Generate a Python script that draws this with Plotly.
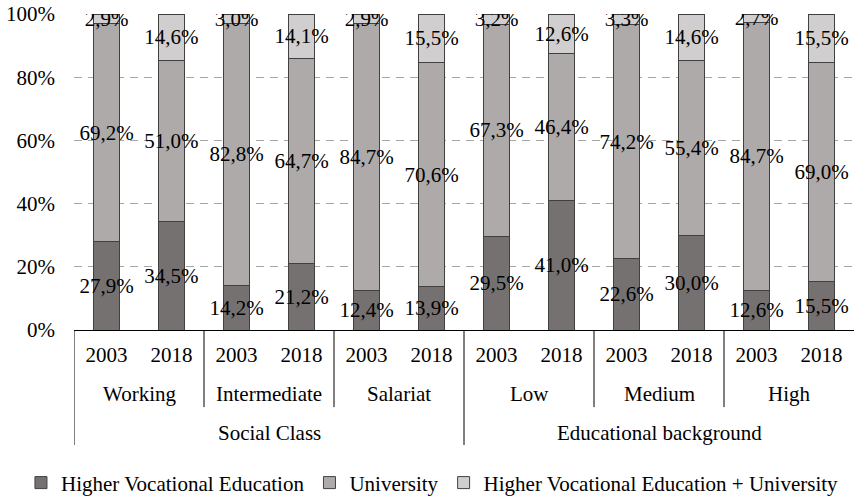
import plotly.graph_objects as go

years = ["2003", "2018"] * 6
groups = ["Working", "Intermediate", "Salariat", "Low", "Medium", "High"]
sections = ["Social Class", "Educational background"]

hve = [27.9, 34.5, 14.2, 21.2, 12.4, 13.9, 29.5, 41.0, 22.6, 30.0, 12.6, 15.5]
uni = [69.2, 51.0, 82.8, 64.7, 84.7, 70.6, 67.3, 46.4, 74.2, 55.4, 84.7, 69.0]
both = [2.9, 14.6, 3.0, 14.1, 2.9, 15.5, 3.2, 12.6, 3.3, 14.6, 2.7, 15.5]

y_ticks = [0, 20, 40, 60, 80, 100]
y_labels = ["0%", "20%", "40%", "60%", "80%", "100%"]

FONT = "Liberation Serif"
FS = 21


def pct(vals):
    return [f"{v:.1f}%".replace(".", ",") for v in vals]


xpos = list(range(len(years)))

fig = go.Figure()

series = [
    ("Higher Vocational Education", hve, "#767171"),
    ("University", uni, "#AEAAAA"),
    ("Higher Vocational Education + University", both, "#D0CECE"),
]

for name, vals, color in series:
    fig.add_trace(go.Bar(
        x=xpos,
        y=vals,
        name=name,
        width=0.39,
        marker=dict(color=color, line=dict(color="#404040", width=1)),
        text=pct(vals),
        textposition="inside",
        insidetextanchor="middle",
        textangle=0,
        insidetextfont=dict(color="black", size=FS, family=FONT),
        hoverinfo="skip",
    ))

# group labels (second level) and section labels (third level)
for i, g in enumerate(groups):
    fig.add_annotation(x=2 * i + 0.5, y=-0.2025, xref="x", yref="paper",
                       text=g, showarrow=False, yanchor="middle",
                       font=dict(size=FS, family=FONT, color="black"))

for i, s in enumerate(sections):
    fig.add_annotation(x=6 * i + 2.5, y=-0.326, xref="x", yref="paper",
                       text=s, showarrow=False, yanchor="middle",
                       font=dict(size=FS, family=FONT, color="black"))

# divider lines under the axis
for xb in [-0.5, 1.5, 3.5, 5.5, 7.5, 9.5]:
    y_end = -0.364 if xb in (-0.5, 5.5) else -0.244
    fig.add_shape(type="line", xref="x", yref="paper",
                  x0=xb, x1=xb, y0=0, y1=y_end,
                  line=dict(color="black", width=1))

fig.update_layout(
    barmode="stack",
    barnorm="percent",
    width=854,
    height=497,
    margin=dict(l=74, r=0, t=14, b=167, autoexpand=False),
    plot_bgcolor="white",
    paper_bgcolor="white",
    font=dict(family=FONT, size=FS, color="black"),
    uniformtext=dict(minsize=FS, mode="show"),
    showlegend=True,
    legend=dict(
        orientation="h",
        x=-0.068, xanchor="left",
        y=-0.484, yanchor="middle",
        font=dict(size=FS, family=FONT),
        itemwidth=30,
        traceorder="normal",
    ),
)

fig.update_xaxes(
    range=[-0.5, 11.5],
    tickmode="array",
    tickvals=xpos,
    ticktext=years,
    showgrid=False,
    zeroline=False,
    showline=True,
    linecolor="black",
    linewidth=1,
    ticks="",
    ticklabelstandoff=6,
    tickfont=dict(size=FS, family=FONT),
)

fig.update_yaxes(
    range=[0, 100],
    tickmode="array",
    tickvals=y_ticks,
    ticktext=y_labels,
    showgrid=True,
    gridcolor="#A6A6A6",
    griddash="8px,6px",
    gridwidth=1,
    zeroline=False,
    showline=False,
    ticks="",
    ticklabelstandoff=18,
    tickfont=dict(size=FS, family=FONT),
)

fig.write_html("out.html", config={"displayModeBar": False},
               post_script="document.body.style.margin='0';")
